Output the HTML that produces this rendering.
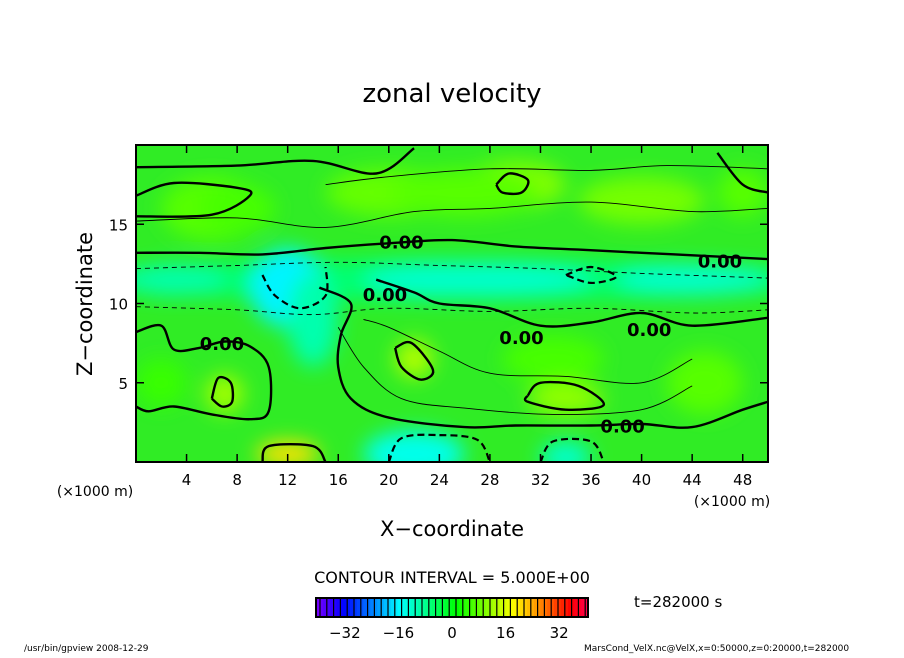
<!DOCTYPE html>
<html><head><meta charset="utf-8"><style>
body{margin:0;background:#fff;width:904px;height:654px;overflow:hidden;font-family:"DejaVu Sans","Liberation Sans",sans-serif}
svg text{font-family:"DejaVu Sans","Liberation Sans",sans-serif;fill:#000}
</style></head><body>
<svg id="chart" width="904" height="654" viewBox="0 0 904 654" xmlns="http://www.w3.org/2000/svg">
<defs>
<filter id="blur" x="-50%" y="-50%" width="200%" height="200%"><feGaussianBlur stdDeviation="10"/></filter>
<clipPath id="clip"><rect x="136" y="145" width="632" height="317"/></clipPath>
</defs>
<text x="452" y="102" font-size="26" text-anchor="middle">zonal velocity</text>
<g id="field" clip-path="url(#clip)"></g>
<g id="contours" clip-path="url(#clip)"></g>
<rect x="136" y="145" width="632" height="317" fill="none" stroke="#000" stroke-width="2"/>
<g id="axes"></g>
<text x="452" y="536" font-size="21" text-anchor="middle">X−coordinate</text>
<text x="92" y="304" font-size="21" text-anchor="middle" transform="rotate(-90 92 304)">Z−coordinate</text>
<text x="95" y="496" font-size="14" text-anchor="middle">(×1000 m)</text>
<text x="732" y="506" font-size="14" text-anchor="middle">(×1000 m)</text>
<text x="452" y="583" font-size="16" text-anchor="middle">CONTOUR INTERVAL = 5.000E+00</text>
<g id="cbar"></g>
<text x="634" y="607" font-size="15">t=282000 s</text>
<text x="24" y="651" font-size="9">/usr/bin/gpview  2008-12-29</text>
<text x="584" y="651" font-size="9">MarsCond_VelX.nc@VelX,x=0:50000,z=0:20000,t=282000</text>
</svg>
<script>
const xTicks=[4,8,12,16,20,24,28,32,36,40,44,48];
const yTicks=[5,10,15];
const cbLabels=[-32,-16,0,16,32];
// blobs: x (km), z (km), rx, rz, value (m/s)
const blobX=[25,12,3,24,28,22,14,34,44,30,7,22,34,12,6,40,45,20,8,48,33,26,2];
const blobZ=[11.5,11,11.5,11.5,11.5,0.5,9,0.3,11.5,17.5,4.3,6.5,4,0.5,16,16.5,5,17,16,17,6.5,17,5];
const blobV=[-6,-16,-10,-12,-12,-14,-10,-12,-12,10,12,13,11,20,7,9,7,8,6,7,6,7,5];
const blobRX=[30,3,4,6,8,4,2,2,6,4,1.5,1.5,3,2.5,4,5,3,5,3,2,4,6,2];
const blobRZ=[1.3,2.5,1,1,1,1.5,3,1,1,1.5,1.2,1.2,1,0.8,2,1.5,2,1.5,1.5,1.5,1.5,1.5,1.5];
// zero contours (x,z pairs)
const zero1=[[0,13.2],[5,13.2],[10,13.1],[15,13.5],[20,13.8],[25,14],[30,13.6],[35,13.4],[40,13.2],[45,13],[50,12.8]];
const zero2=[[0,8.2],[2,8.6],[3,7.1],[5,7.2],[7,7.6],[9,7.3],[10.5,6],[10.5,3.2],[9,2.7],[6,3],[3,3.5],[1,3.2],[0,3.5]];
const zero3=[[14.5,11],[17,10],[16.2,8],[16,6],[17,4],[20,2.8],[26,2.2],[30,2.3],[36,2.3],[40,2.4],[44,2.2],[48,3.3],[50,3.8]];
const zero4=[[19,11.5],[22,10.7],[24,10],[28,9.7],[32,8.6],[36,8.8],[40,9.4],[44,8.6],[50,9.1]];
const zero5=[[0,16.8],[3,17.6],[8,17.3],[9,16.8],[6,15.6],[0,15.5]];
const zero6=[[0,18.6],[8,18.7],[14,19],[19,18.2],[22,19.8]];
const zero7=[[46,19.5],[48,17.5],[50,17]];
const neg1=[[0,12.2],[8,12.4],[16,12.6],[24,12.4],[32,12.2],[40,11.9],[50,11.6]];
const neg2=[[0,9.8],[8,9.6],[14,9.3],[20,9.7],[28,9.5],[36,9.7],[44,9.4],[50,9.6]];
const neg3=[[10,11.8],[11,10.5],[13,9.7],[15,10.5],[15,12.3]];
const neg4=[[20,0],[21,1.5],[24,1.7],[27,1.4],[28,0]];
const neg5=[[32,0],[33,1.3],[36,1.3],[37,0]];
const neg6=[[34,11.8],[36,12.3],[38,11.7],[36,11.3],[34,11.8]];
const pos1=[[6,4],[6.5,5.3],[7.5,5],[7.6,3.8],[6.8,3.5],[6,4]];
const pos2=[[31,4.2],[32,5],[35,4.8],[37,3.6],[34,3.3],[31,3.8],[31,4.2]];
const pos3=[[28.5,17.5],[29.5,18.2],[31,17.8],[30.5,17],[29,17],[28.5,17.5]];
const pos4=[[20.5,7.2],[21.8,7.5],[23.5,5.8],[22.5,5.2],[21,6],[20.5,7.2]];
const pos5=[[10,0],[10.5,1],[14,1],[15,0]];
const thin1=[[15,17.5],[20,18],[28,18.5],[36,18.4],[42,18.7],[50,18.5]];
const thin2=[[16,8.5],[18,6],[21,4],[26,3.4],[33,3],[40,3.3],[44,4.8]];
const thin3=[[0,15.2],[8,15.4],[15,14.8],[22,15.8],[28,16],[36,16.4],[44,15.8],[50,16]];
const thin4=[[18,9],[20,8.5],[24,7],[28,5.6],[34,5.4],[40,5],[44,6.5]];
const labels=[[6.8,7.5],[19.7,10.6],[30.5,7.9],[40.6,8.4],[21,13.9],[46.2,12.7],[38.5,2.3]];

const x0=136,x1=768,y0=462,y1=145;
const sx=v=>x0+(v/50)*(x1-x0);
const sy=v=>y0-(v/20)*(y0-y1);
const NS="http://www.w3.org/2000/svg";
function mk(t,a,p){const e=document.createElementNS(NS,t);for(const k in a)e.setAttribute(k,a[k]);p.appendChild(e);return e;}
function col(v){
  const t=Math.max(-1,Math.min(1,v/40));
  let h= t<0 ? 125+(-t)*120*1.2 : 125-t*125*1.15;
  return `hsl(${h},100%,50%)`;
}
const field=document.getElementById('field');
const bg=mk('rect',{x:x0,y:y1,width:x1-x0,height:y0-y1,fill:'#30ec25'},field);


const bl=mk('g',{filter:'url(#blur)'},field);
for(let i=0;i<blobX.length;i++){
  const e=mk('ellipse',{cx:sx(blobX[i]),cy:sy(blobZ[i]),rx:blobRX[i]*12.64,ry:blobRZ[i]*15.85,fill:col(blobV[i])},bl);
  
  
}
const cg=document.getElementById('contours');
function smooth(P){
  let d='M'+P[0][0].toFixed(1)+' '+P[0][1].toFixed(1);
  for(let i=0;i<P.length-1;i++){
    const p0=P[Math.max(0,i-1)],p1=P[i],p2=P[i+1],p3=P[Math.min(P.length-1,i+2)];
    const c1=[p1[0]+(p2[0]-p0[0])/6,p1[1]+(p2[1]-p0[1])/6];
    const c2=[p2[0]-(p3[0]-p1[0])/6,p2[1]-(p3[1]-p1[1])/6];
    d+=` C${c1[0].toFixed(1)} ${c1[1].toFixed(1)} ${c2[0].toFixed(1)} ${c2[1].toFixed(1)} ${p2[0].toFixed(1)} ${p2[1].toFixed(1)}`;
  }
  return d;
}
function line(pts,w,dash,name){
  const P=pts.map(p=>[sx(p[0]),sy(p[1])]);
  const e=mk('path',{d:smooth(P),fill:'none',stroke:'#000','stroke-width':w,'stroke-dasharray':dash||'none'},cg);
  
  
}
[zero1,zero2,zero3,zero4,zero5,zero6,zero7].forEach(p=>line(p,2.4,null,'zero-contour'));
[pos1,pos2,pos3,pos4,pos5].forEach(p=>line(p,2.4,null,'positive-contour'));
[thin1,thin2,thin3,thin4].forEach(p=>line(p,0.9,null,'thin-contour'));
[neg1,neg2].forEach(p=>line(p,0.9,'5 4','negative-contour'));
[neg3,neg4,neg5,neg6].forEach(p=>line(p,2.2,'7 4','negative-contour'));
labels.forEach(l=>{
  const bgr=mk('rect',{x:sx(l[0])-20,y:sy(l[1])-8,width:40,height:16,fill:'none'},cg);
  const t=mk('text',{x:sx(l[0]),y:sy(l[1])+7,'font-size':18,'text-anchor':'middle','font-weight':'bold'},cg);
  t.textContent='0.00';
  
  
});
const ax=document.getElementById('axes');
xTicks.forEach(v=>{
  const l=mk('line',{x1:sx(v),x2:sx(v),y1:y0,y2:y0-8,stroke:'#000','stroke-width':1.5},ax);
  
  
  const l2=mk('line',{x1:sx(v),x2:sx(v),y1:y1,y2:y1+8,stroke:'#000','stroke-width':1.5},ax);
  
  
  const t=mk('text',{x:sx(v),y:485,'font-size':15,'text-anchor':'middle'},ax);
  t.textContent=v;
  
  
});
yTicks.forEach(v=>{
  const l=mk('line',{x1:x0,x2:x0+8,y1:sy(v),y2:sy(v),stroke:'#000','stroke-width':1.5},ax);
  
  
  const l2=mk('line',{x1:x1,x2:x1-8,y1:sy(v),y2:sy(v),stroke:'#000','stroke-width':1.5},ax);
  
  
  const t=mk('text',{x:128,y:sy(v)+6,'font-size':15,'text-anchor':'end'},ax);
  t.textContent=v;
  
  
});
const cb=document.getElementById('cbar');
const cbx0=316,cbx1=588,cby=598,cbh=19,n=80;
for(let i=0;i<n;i++){
  const v=-40+80*(i+0.5)/n;
  const r=mk('rect',{x:cbx0+(cbx1-cbx0)*i/n,y:cby,width:(cbx1-cbx0)/n+0.3,height:cbh,fill:col(v)},cb);
  
  
  if(i%2){
    const s=mk('rect',{x:cbx0+(cbx1-cbx0)*i/n,y:cby,width:1.2,height:cbh,fill:'#000'},cb);
    
    
  }
}
const cbf=mk('rect',{x:cbx0,y:cby,width:cbx1-cbx0,height:cbh,fill:'none',stroke:'#000','stroke-width':2},cb);


cbLabels.forEach(v=>{
  const t=mk('text',{x:452+v*3.35,y:638,'font-size':15,'text-anchor':'middle'},cb);
  t.textContent=v<0?'−'+(-v):v;
  
  
});
</script>
</body></html>
